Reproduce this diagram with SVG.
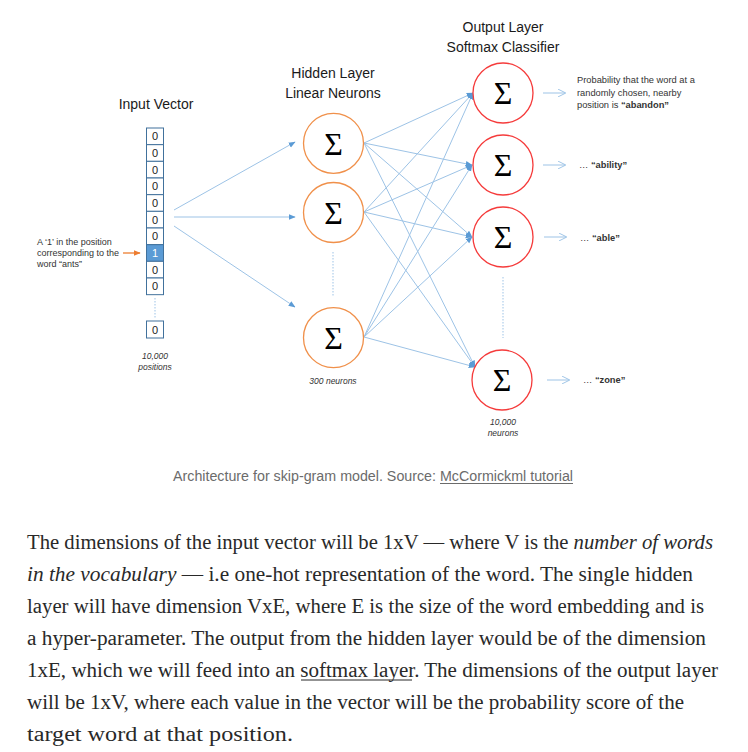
<svg xmlns="http://www.w3.org/2000/svg" width="748" height="752" viewBox="0 0 748 752">
<style>
.title{font-family:"Liberation Sans",Arial,sans-serif;font-size:14px;fill:#1a1a1a;text-anchor:middle}
.cell{fill:#fff;stroke:#41719C;stroke-width:1}
.celltxt{font-family:"Liberation Sans",Arial,sans-serif;font-size:11px;fill:#222;text-anchor:middle}
.hid{fill:#fff;stroke:#F0904A;stroke-width:1.3}
.out{fill:#fff;stroke:#F53B3B;stroke-width:1.3}
.sig{font-family:"Liberation Serif","Times New Roman",serif;font-size:32px;fill:#000;text-anchor:middle}
.conn{stroke:#9DC3E6;stroke-width:1;fill:none}
.dot{stroke:#9DC3E6;stroke-width:1;stroke-dasharray:1.5 1.5;fill:none}
.small{font-family:"Liberation Sans",Arial,sans-serif;font-size:9.3px;fill:#333}
.note{font-family:"Liberation Sans",Arial,sans-serif;font-size:8.5px;fill:#333;font-style:italic;text-anchor:middle}
.cap{font-family:"Liberation Sans",Arial,sans-serif;font-size:14px;fill:#6b6b6b}
.body{font-family:"Liberation Serif","Times New Roman",serif;font-size:20px;fill:#292929}
</style>
<defs>
<marker id="ah" viewBox="0 0 10 10" refX="9" refY="5" markerWidth="7" markerHeight="7" orient="auto" markerUnits="userSpaceOnUse">
<path d="M0,1 L10,5 L0,9 z" fill="#5B9BD5"/>
</marker>
<marker id="oh" viewBox="0 0 10 10" refX="9" refY="5" markerWidth="8" markerHeight="8" orient="auto" markerUnits="userSpaceOnUse">
<path d="M0,0 L10,5 L0,10" fill="none" stroke="#9DC3E6" stroke-width="1.2"/>
</marker>
<marker id="orh" viewBox="0 0 10 10" refX="9" refY="5" markerWidth="7" markerHeight="7" orient="auto" markerUnits="userSpaceOnUse">
<path d="M0,1 L10,5 L0,9 z" fill="#ED7D31"/>
</marker>
</defs>
<rect width="748" height="752" fill="#fff"/>

<!-- titles -->
<text class="title" x="156" y="109">Input Vector</text>
<text class="title" x="333" y="78">Hidden Layer</text>
<text class="title" x="333" y="98">Linear Neurons</text>
<text class="title" x="503" y="32">Output Layer</text>
<text class="title" x="503" y="52">Softmax Classifier</text>

<!-- connectors -->
<g id="connectors">
<line class="conn" x1="174" y1="210" x2="295" y2="142" marker-end="url(#ah)"/>
<line class="conn" x1="174" y1="217" x2="295" y2="217" marker-end="url(#ah)"/>
<line class="conn" x1="174" y1="226" x2="295" y2="307" marker-end="url(#ah)"/>
<line class="conn" x1="364" y1="143" x2="473" y2="93" marker-end="url(#ah)"/>
<line class="conn" x1="364" y1="143" x2="472" y2="165" marker-end="url(#ah)"/>
<line class="conn" x1="364" y1="143" x2="472" y2="237" marker-end="url(#ah)"/>
<line class="conn" x1="364" y1="143" x2="475" y2="367" marker-end="url(#ah)" stroke="#7FB0DE"/>
<line class="conn" x1="364" y1="212" x2="473" y2="93" marker-end="url(#ah)"/>
<line class="conn" x1="364" y1="212" x2="472" y2="165" marker-end="url(#ah)"/>
<line class="conn" x1="364" y1="212" x2="472" y2="237" marker-end="url(#ah)"/>
<line class="conn" x1="364" y1="212" x2="475" y2="367" marker-end="url(#ah)"/>
<line class="conn" x1="364" y1="337" x2="473" y2="93" marker-end="url(#ah)"/>
<line class="conn" x1="364" y1="337" x2="472" y2="165" marker-end="url(#ah)"/>
<line class="conn" x1="364" y1="337" x2="472" y2="237" marker-end="url(#ah)"/>
<line class="conn" x1="364" y1="337" x2="475" y2="367" marker-end="url(#ah)"/>
<line class="conn" x1="543" y1="93" x2="565" y2="93" marker-end="url(#oh)"/>
<line class="conn" x1="543" y1="165" x2="565" y2="165" marker-end="url(#oh)"/>
<line class="conn" x1="544" y1="237" x2="566" y2="237" marker-end="url(#oh)"/>
<line class="conn" x1="547" y1="380" x2="569" y2="380" marker-end="url(#oh)"/>
<line x1="123" y1="253" x2="140" y2="253" stroke="#ED7D31" stroke-width="1.3" marker-end="url(#orh)"/>
<line class="dot" x1="155" y1="298" x2="155" y2="318"/>
<line class="dot" x1="333" y1="252" x2="333" y2="297"/>
<line class="dot" x1="503" y1="277" x2="503" y2="338"/>
</g>

<!-- input vector -->
<g id="input-vector">
<rect class="cell" x="146.5" y="128" width="17" height="16.67"/>
<rect class="cell" x="146.5" y="144.67" width="17" height="16.67"/>
<rect class="cell" x="146.5" y="161.33" width="17" height="16.67"/>
<rect class="cell" x="146.5" y="178" width="17" height="16.67"/>
<rect class="cell" x="146.5" y="194.67" width="17" height="16.67"/>
<rect class="cell" x="146.5" y="211.33" width="17" height="16.67"/>
<rect class="cell" x="146.5" y="228" width="17" height="16.67"/>
<rect x="146.5" y="244.67" width="17" height="16.67" fill="#5B9BD5" stroke="#41719C"/>
<rect class="cell" x="146.5" y="261.33" width="17" height="16.67"/>
<rect class="cell" x="146.5" y="278" width="17" height="16.67"/>
<rect class="cell" x="146.5" y="321" width="17" height="17"/>
<text class="celltxt" x="155" y="140.3">0</text>
<text class="celltxt" x="155" y="157">0</text>
<text class="celltxt" x="155" y="173.7">0</text>
<text class="celltxt" x="155" y="190.3">0</text>
<text class="celltxt" x="155" y="207">0</text>
<text class="celltxt" x="155" y="223.7">0</text>
<text class="celltxt" x="155" y="240.3">0</text>
<text class="celltxt" x="155" y="257" style="fill:#fff">1</text>
<text class="celltxt" x="155" y="273.7">0</text>
<text class="celltxt" x="155" y="290.3">0</text>
<text class="celltxt" x="155" y="333.5">0</text>
<text class="note" x="155" y="359">10,000</text>
<text class="note" x="155" y="370">positions</text>
</g>

<g id="input-note">
<text class="small" x="37" y="245" style="font-size:9px">A ‘1’ in the position</text>
<text class="small" x="37" y="256" style="font-size:9px">corresponding to the</text>
<text class="small" x="37" y="267" style="font-size:9px">word “ants”</text>
</g>

<!-- hidden neurons -->
<g id="hidden-1"><circle class="hid" cx="333.5" cy="143.3" r="30"/><text class="sig" x="333.5" y="154.5">Σ</text></g>
<g id="hidden-2"><circle class="hid" cx="333.5" cy="212.5" r="30"/><text class="sig" x="333.5" y="223.7">Σ</text></g>
<g id="hidden-3"><circle class="hid" cx="333.5" cy="337.7" r="30"/><text class="sig" x="333.5" y="348.9">Σ</text></g>
<text class="note" x="333" y="384">300 neurons</text>

<!-- output neurons -->
<g id="output-1"><circle class="out" cx="503" cy="93" r="30"/><text class="sig" x="503" y="104.2">Σ</text></g>
<g id="output-2"><circle class="out" cx="503" cy="165" r="30"/><text class="sig" x="503" y="176.2">Σ</text></g>
<g id="output-3"><circle class="out" cx="503" cy="237" r="30"/><text class="sig" x="503" y="248.2">Σ</text></g>
<g id="output-4"><circle class="out" cx="502" cy="380" r="30"/><text class="sig" x="502" y="391.2">Σ</text></g>
<text class="note" x="503" y="424.5">10,000</text>
<text class="note" x="503" y="436">neurons</text>

<g id="output-labels">
<text class="small" x="577" y="83">Probability that the word at a</text>
<text class="small" x="577" y="95.5">randomly chosen, nearby</text>
<text class="small" x="577" y="108">position is <tspan font-weight="bold">“abandon”</tspan></text>
<text class="small" x="579" y="168">… <tspan font-weight="bold">“ability”</tspan></text>
<text class="small" x="580" y="240.5">… <tspan font-weight="bold">“able”</tspan></text>
<text class="small" x="583" y="383">… <tspan font-weight="bold">“zone”</tspan></text>
</g>

<!-- caption -->
<text class="cap" x="173" y="481" textLength="400" lengthAdjust="spacingAndGlyphs">Architecture for skip-gram model. Source: McCormickml tutorial</text>
<line x1="440" y1="483.5" x2="573" y2="483.5" stroke="#6b6b6b" stroke-width="1"/>

<!-- body -->
<text class="body" x="27" y="549" textLength="686" lengthAdjust="spacingAndGlyphs">The dimensions of the input vector will be 1xV — where V is the <tspan font-style="italic">number of words</tspan></text>
<text class="body" x="27" y="581" textLength="666" lengthAdjust="spacingAndGlyphs"><tspan font-style="italic">in the vocabulary</tspan> — i.e one-hot representation of the word. The single hidden</text>
<text class="body" x="27" y="613" textLength="677" lengthAdjust="spacingAndGlyphs">layer will have dimension VxE, where E is the size of the word embedding and is</text>
<text class="body" x="27" y="645" textLength="679" lengthAdjust="spacingAndGlyphs">a hyper-parameter. The output from the hidden layer would be of the dimension</text>
<text class="body" x="27" y="677" textLength="691" lengthAdjust="spacingAndGlyphs">1xE, which we will feed into an softmax layer. The dimensions of the output layer</text>
<line x1="301" y1="680" x2="412" y2="680" stroke="#292929" stroke-width="1"/>
<text class="body" x="27" y="709" textLength="657" lengthAdjust="spacingAndGlyphs">will be 1xV, where each value in the vector will be the probability score of the</text>
<text class="body" x="27" y="741" textLength="266" lengthAdjust="spacingAndGlyphs">target word at that position.</text>
</svg>
